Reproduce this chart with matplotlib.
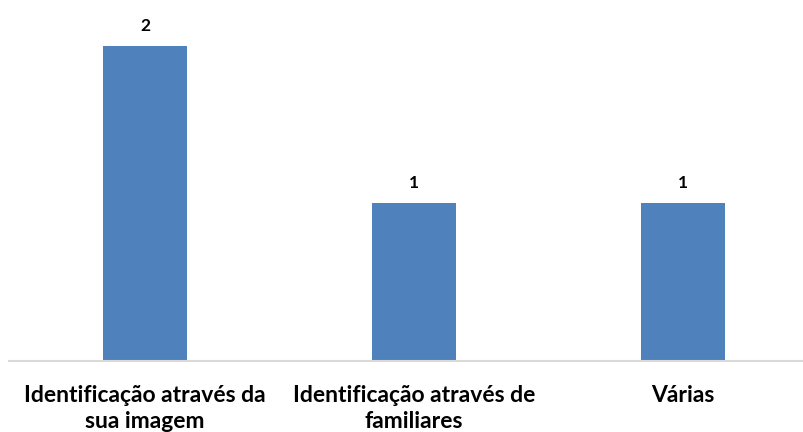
import matplotlib
matplotlib.use("Agg")
import matplotlib.pyplot as plt

categories = ["Identificação através da\nsua imagem",
              "Identificação através de\nfamiliares",
              "Várias"]
values = [2, 1, 1]

bar_color = "#4f81bd"
font = "Lato"

fig = plt.figure(figsize=(8.04, 4.32), dpi=100)
ax = fig.add_axes([9 / 804, 71 / 432, 795 / 804, 361 / 432])

x = range(len(categories))
bars = ax.bar(x, values, width=0.312, color=bar_color, zorder=2)

ax.set_xlim(-0.5056, 2.45)
ax.set_ylim(0, 361 / 157.5)

for xi, v in zip(x, values):
    ax.annotate(str(v), (xi, v), xytext=(0, 14.5), textcoords="offset points",
                ha="center", va="center", fontsize=12.5, fontweight="bold",
                family=font, color="black")

ax.set_xticks(list(x))
ax.set_xticklabels(categories, fontsize=16.5, fontweight="bold", family=font,
                   linespacing=1.32)
ax.tick_params(axis="x", length=0, pad=17)
ax.set_yticks([])

for side in ("top", "right", "left"):
    ax.spines[side].set_visible(False)
ax.spines["bottom"].set_color("#d9d9d9")
ax.spines["bottom"].set_linewidth(1.5)

fig.savefig("out.png", dpi=100)
